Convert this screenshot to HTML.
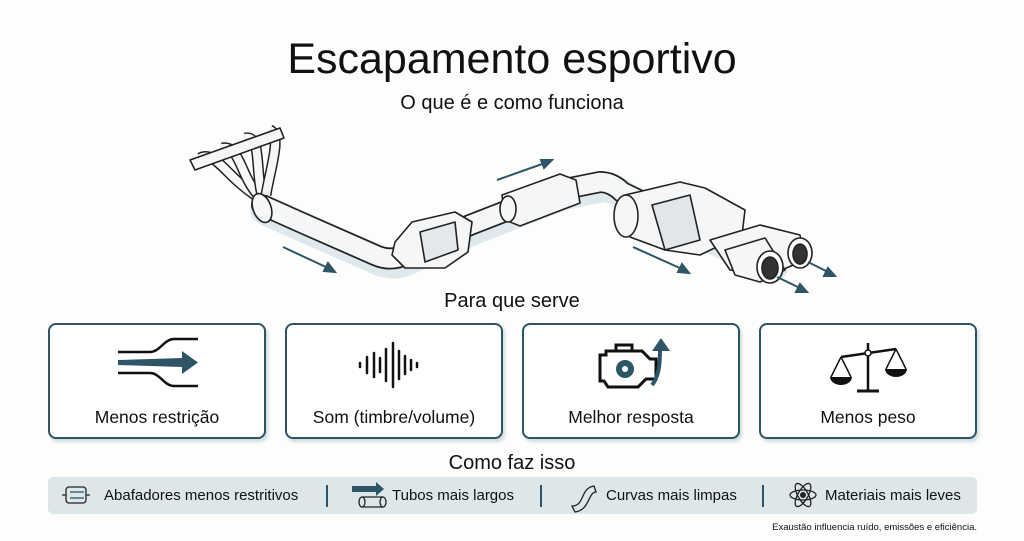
<!DOCTYPE html>
<html><head><meta charset="utf-8"><style>
body{margin:0;width:1024px;height:541px;background:#fdfdfc;font-family:"Liberation Sans",sans-serif;color:#111;position:relative;overflow:hidden}
.t{position:absolute;left:0;width:1024px;text-align:center}
.card{position:absolute;top:323px;width:214px;height:112px;border:2px solid #2d5566;border-radius:8px;background:#fff;box-shadow:2px 3px 3px #cfdadf}
.card .l{position:absolute;left:0;right:0;top:82px;text-align:center;font-size:17.5px}
.card svg{position:absolute;left:0;top:0}
.bar{position:absolute;left:48px;top:477px;width:929px;height:37px;background:#dde7ea;border-radius:5px}
.it{position:absolute;top:487px;font-size:15px}
.sep{position:absolute;top:485px;width:2px;height:22px;background:#2d5566}
</style></head><body>
<div class="t" style="top:35px;font-size:43px">Escapamento esportivo</div>
<div class="t" style="top:92px;font-size:20px">O que é e como funciona</div>

<svg style="position:absolute;left:0;top:0" width="1024" height="300">
<!-- pipe -->
<path d="M262,205 L300,222 L375,255 Q390,262 405,255 L470,225 L560,190 L600,182 Q612,182 622,192 L690,225 L770,262" fill="none" stroke="#dfe8ec" stroke-width="30" stroke-linecap="round" stroke-linejoin="round" transform="translate(3,5)"/>
<path d="M262,205 L300,222 L375,255 Q390,262 405,255 L470,225 L560,190 L600,182 Q612,182 622,192 L690,225 L770,262" fill="none" stroke="#222" stroke-width="22" stroke-linecap="round" stroke-linejoin="round"/>
<path d="M262,205 L300,222 L375,255 Q390,262 405,255 L470,225 L560,190 L600,182 Q612,182 622,192 L690,225 L770,262" fill="none" stroke="#f4f6f7" stroke-width="18.5" stroke-linecap="round" stroke-linejoin="round"/>
<g fill="#f4f6f7" stroke="#222" stroke-width="1.6" stroke-linejoin="round">
<!-- header runners -->
<path d="M200,158 C215,150 225,175 255,195" fill="none" stroke="#222" stroke-width="11"/>
<path d="M200,158 C215,150 225,175 255,195" fill="none" stroke="#f4f6f7" stroke-width="8"/>
<path d="M222,148 C240,145 240,175 258,195" fill="none" stroke="#222" stroke-width="11"/>
<path d="M222,148 C240,145 240,175 258,195" fill="none" stroke="#f4f6f7" stroke-width="8"/>
<path d="M245,138 C262,135 255,170 262,195" fill="none" stroke="#222" stroke-width="11"/>
<path d="M245,138 C262,135 255,170 262,195" fill="none" stroke="#f4f6f7" stroke-width="8"/>
<path d="M270,130 C282,135 270,170 266,195" fill="none" stroke="#222" stroke-width="11"/>
<path d="M270,130 C282,135 270,170 266,195" fill="none" stroke="#f4f6f7" stroke-width="8"/>
<path d="M190,160 L280,128 L284,138 L195,170 Z" fill="#f4f6f7"/>
<ellipse cx="262" cy="208" rx="9" ry="15" transform="rotate(-20 262 208)"/>
<!-- cat -->
<path d="M395,242 L412,222 L455,212 L472,222 L468,252 L445,268 L405,268 L392,255 Z"/>
<path d="M420,232 L455,222 L458,250 L425,262 Z" fill="#e4e8ea"/>
<!-- resonator -->
<path d="M502,195 L560,174 L576,180 L580,203 L520,226 L505,220 Z"/>
<ellipse cx="508" cy="209" rx="8" ry="13"/>
<!-- muffler -->
<path d="M625,195 L680,182 L705,188 L745,210 L742,235 L700,255 L665,250 L630,237 L616,215 Z"/>
<ellipse cx="626" cy="216" rx="12" ry="21"/>
<path d="M652,205 L690,195 L700,240 L665,250 Z" fill="#e2e6e8"/>
<!-- tips -->
<path d="M710,240 L760,225 L800,235 L805,260 L770,275 L730,270 Z"/>
<path d="M725,250 L765,238 L785,270 L760,282 L735,275 Z"/>
<ellipse cx="770" cy="267" rx="13" ry="16" fill="#fff"/>
<ellipse cx="770" cy="268" rx="8" ry="11" fill="#333"/>
<ellipse cx="800" cy="253" rx="12" ry="15" fill="#fff"/>
<ellipse cx="800" cy="254" rx="7" ry="10" fill="#333"/>
</g>
<g stroke="#2d5566" stroke-width="2" fill="#2d5566">
<line x1="283" y1="247" x2="328" y2="268"/><path d="M335,272 L324,271 L328,263 Z"/>
<line x1="497" y1="180" x2="545" y2="163"/><path d="M552,160 L544,168 L541,160 Z"/>
<line x1="633" y1="247" x2="682" y2="269"/><path d="M689,273 L678,272 L682,264 Z"/>
<line x1="777" y1="277" x2="800" y2="288"/><path d="M807,292 L796,292 L800,284 Z"/>
<line x1="808" y1="262" x2="828" y2="272"/><path d="M835,276 L824,276 L828,268 Z"/>
</g>
</svg>

<div class="t" style="top:290px;font-size:20px">Para que serve</div>

<div class="card" style="left:48px"><svg width="214" height="80">
<path d="M68,27 H100 C110,27 114,14 124,14 H148" fill="none" stroke="#111" stroke-width="2.5"/>
<path d="M68,48 H100 C110,48 114,61 124,61 H148" fill="none" stroke="#111" stroke-width="2.5"/>
<path d="M68,35 L132,33 L132,26 L148,37.5 L132,49 L132,42 L68,40 Z" fill="#2d5566"/>
</svg><div class="l">Menos restrição</div></div>

<div class="card" style="left:285px"><svg width="214" height="80"><g stroke="#111" stroke-width="2.5" stroke-linecap="round">
<line x1="73" y1="38" x2="73" y2="42"/><line x1="80" y1="32" x2="80" y2="48"/><line x1="87" y1="28" x2="87" y2="52"/><line x1="93" y1="33" x2="93" y2="47"/><line x1="99" y1="24" x2="99" y2="56"/><line x1="106" y1="18" x2="106" y2="62"/><line x1="112" y1="26" x2="112" y2="54"/><line x1="118" y1="31" x2="118" y2="49"/><line x1="124" y1="35" x2="124" y2="45"/><line x1="130" y1="38" x2="130" y2="42"/></g>
</svg><div class="l">Som (timbre/volume)</div></div>

<div class="card" style="left:522px"><svg width="214" height="80">
<path d="M76,30 H82 V26 H118 L126,34 H132 V54 H122 L114,62 H84 L80,56 H76 Z" fill="none" stroke="#111" stroke-width="3"/>
<path d="M92,26 V20 H108 V26" fill="none" stroke="#111" stroke-width="3"/>
<circle cx="101" cy="44" r="9" fill="#2d5566"/><circle cx="101" cy="44" r="3" fill="#fff"/>
<path d="M128,60 C136,50 136,35 136,24" fill="none" stroke="#2d5566" stroke-width="4"/>
<path d="M128,26 L137,13 L146,26 Z" fill="#2d5566"/>
</svg><div class="l">Melhor resposta</div></div>

<div class="card" style="left:759px"><svg width="214" height="80">
<line x1="107" y1="18" x2="107" y2="66" stroke="#111" stroke-width="2.5"/>
<line x1="80" y1="32" x2="135" y2="24" stroke="#111" stroke-width="2.5"/>
<line x1="96" y1="66" x2="118" y2="66" stroke="#111" stroke-width="3"/>
<path d="M80,32 L70,52 M80,32 L90,52 M135,24 L125,44 M135,24 L145,44" stroke="#111" stroke-width="1.5" fill="none"/>
<path d="M69,52 H91 A11,8 0 0 1 69,52Z M124,44 H146 A11,8 0 0 1 124,44Z" fill="#111"/>
<circle cx="107" cy="28" r="3" fill="#fff" stroke="#111" stroke-width="1.5"/>
</svg><div class="l">Menos peso</div></div>

<div class="t" style="top:452px;font-size:20px">Como faz isso</div>
<div class="bar"></div>
<svg style="position:absolute;left:0;top:476px" width="1024" height="40">
<g fill="none" stroke="#222" stroke-width="1.3">
<rect x="66" y="11" width="20" height="16" rx="3"/><line x1="70" y1="16" x2="84" y2="16" stroke="#2d5566"/><line x1="70" y1="22" x2="84" y2="22" stroke="#2d5566"/>
<path d="M66,19 H62 M86,19 H90"/>
<ellipse cx="362" cy="26" rx="3" ry="5"/><path d="M362,21 H383 M362,31 H383"/><ellipse cx="383" cy="26" rx="3" ry="5"/>
<path d="M572,30 C585,30 580,12 594,10 L596,16 C588,16 590,34 575,36 Z"/>
<ellipse cx="803" cy="19" rx="13" ry="5"/><ellipse cx="803" cy="19" rx="13" ry="5" transform="rotate(60 803 19)"/><ellipse cx="803" cy="19" rx="13" ry="5" transform="rotate(-60 803 19)"/>
</g>
<path d="M352,10 H376 V6 L384,13 L376,20 V16 H352 Z" fill="#2d5566"/>
<circle cx="803" cy="19" r="3" fill="#222"/>
</svg>
<div class="it" style="left:104px">Abafadores menos restritivos</div>
<div class="sep" style="left:326px"></div>
<div class="it" style="left:392px">Tubos mais largos</div>
<div class="sep" style="left:540px"></div>
<div class="it" style="left:606px">Curvas mais limpas</div>
<div class="sep" style="left:762px"></div>
<div class="it" style="left:825px">Materiais mais leves</div>
<div style="position:absolute;right:47px;top:522px;font-size:9.5px">Exaustão influencia ruído, emissões e eficiência.</div>
</body></html>
